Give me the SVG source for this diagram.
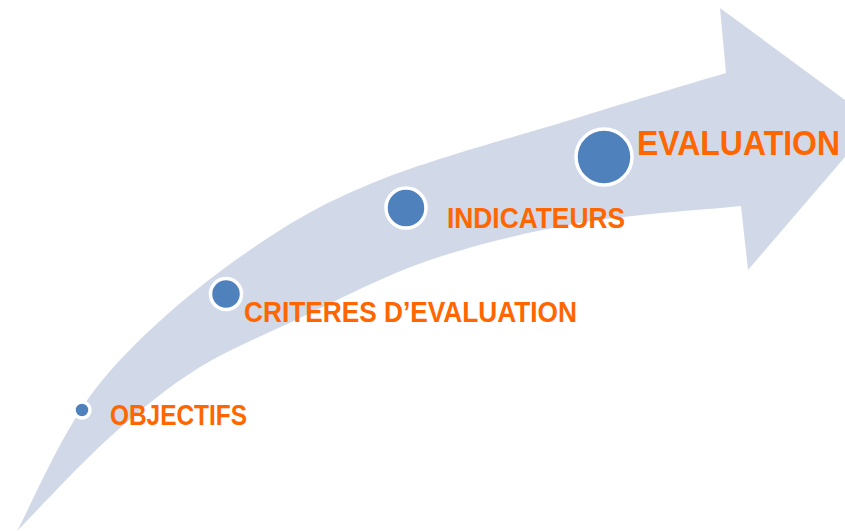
<svg xmlns="http://www.w3.org/2000/svg" width="845" height="531" viewBox="0 0 845 531">
<style>
.lbl{font-family:"Liberation Sans",Arial,sans-serif;font-weight:bold;fill:#FF6600;}
.dot{fill:#4F81BD;stroke:#FFFFFF;stroke-width:3.5;}
</style>
<rect width="845" height="531" fill="#FFFFFF"/>
<g id="connectors">
<path id="arrow" fill="#D1D9E8" d="M17,531 C32,504 62,430 100,383 C140,334 200,284 250,250 C298,217 330,200 380,180 C435,158 522,135 580,117 C638,99 702,80 726,73 L720,8 L875,122 L748,270 L741,206 C714,209 632,214 580,223 C528,232 477,244 430,260 C383,276 338,300 300,318 C262,336 232,348 200,367 C168,387 140,410 110,437 C80,464 33,515 17,531 Z"/>
</g>
<g id="objectifs">
<circle class="dot" cx="82" cy="410" r="8"/>
<text class="lbl" x="110" y="425" font-size="29" textLength="137" lengthAdjust="spacingAndGlyphs">OBJECTIFS</text>
</g>
<g id="criteres">
<circle class="dot" cx="226" cy="294" r="15.5"/>
<text class="lbl" x="244" y="322" font-size="29" textLength="333" lengthAdjust="spacingAndGlyphs">CRITERES D’EVALUATION</text>
</g>
<g id="indicateurs">
<circle class="dot" cx="406" cy="208" r="20"/>
<text class="lbl" x="447" y="228" font-size="29" textLength="178" lengthAdjust="spacingAndGlyphs">INDICATEURS</text>
</g>
<g id="evaluation">
<circle class="dot" cx="604" cy="157" r="28"/>
<text class="lbl" transform="translate(637,155) scale(1,1.1)" x="0" y="0" font-size="31.5" textLength="203" lengthAdjust="spacingAndGlyphs">EVALUATION</text>
</g>
</svg>
